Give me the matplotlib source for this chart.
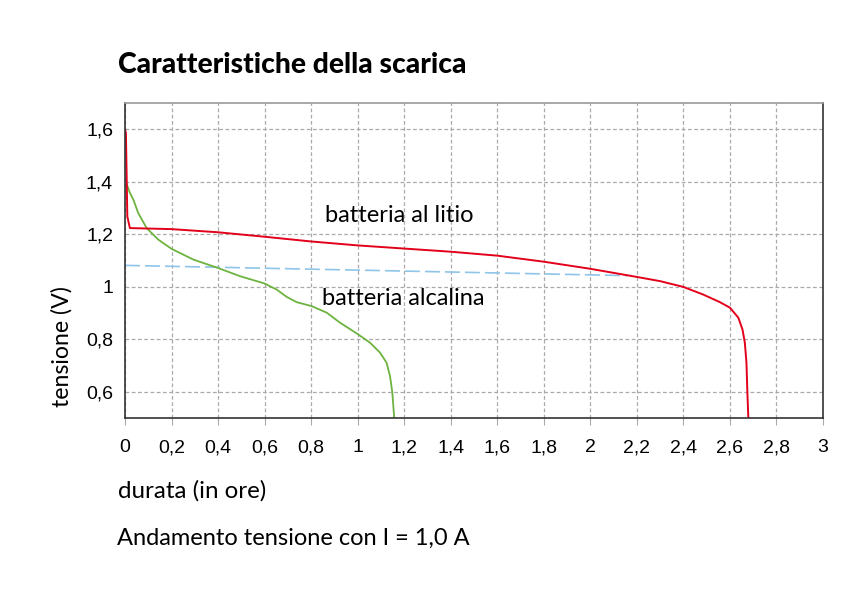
import matplotlib
matplotlib.use("Agg")
import matplotlib.pyplot as plt

# Data
lithium_x = [0.0, 0.004, 0.01, 0.021, 0.2, 0.4, 0.6, 0.8, 1.0, 1.2, 1.4, 1.6, 1.8, 2.0,
             2.2, 2.3, 2.4, 2.485, 2.557, 2.6, 2.636, 2.654, 2.664, 2.671, 2.675, 2.679]
lithium_v = [1.6, 1.585, 1.268, 1.224, 1.22, 1.208, 1.191, 1.173, 1.158, 1.146, 1.134,
             1.119, 1.096, 1.069, 1.038, 1.022, 1.0, 0.971, 0.942, 0.921, 0.883, 0.838,
             0.788, 0.712, 0.598, 0.503]

alkaline_x = [0.008, 0.02, 0.036, 0.057, 0.093, 0.143, 0.2, 0.294, 0.4, 0.494, 0.6,
              0.652, 0.695, 0.738, 0.802, 0.867, 0.924, 0.996, 1.053, 1.096, 1.124,
              1.139, 1.149, 1.157]
alkaline_v = [1.39, 1.36, 1.332, 1.281, 1.224, 1.18, 1.145, 1.104, 1.072, 1.041, 1.013,
              0.99, 0.962, 0.942, 0.927, 0.902, 0.864, 0.823, 0.788, 0.75, 0.712,
              0.661, 0.598, 0.503]

ref_x = [0.0, 2.16]
ref_v = [1.082, 1.043]

x_ticks = [0, 0.2, 0.4, 0.6, 0.8, 1, 1.2, 1.4, 1.6, 1.8, 2, 2.2, 2.4, 2.6, 2.8, 3]
x_tick_labels = ["0", "0,2", "0,4", "0,6", "0,8", "1", "1,2", "1,4", "1,6", "1,8",
                 "2", "2,2", "2,4", "2,6", "2,8", "3"]
y_ticks = [0.6, 0.8, 1.0, 1.2, 1.4, 1.6]
y_tick_labels = ["0,6", "0,8", "1", "1,2", "1,4", "1,6"]

title = "Caratteristiche della scarica"
label_lithium = "batteria al litio"
label_alkaline = "batteria alcalina"
x_label = "durata (in ore)"
y_label = "tensione (V)"
caption = "Andamento tensione con I = 1,0 A"

plt.rcParams["font.family"] = ["Liberation Sans", "DejaVu Sans"]

W, H = 850, 593
fig = plt.figure(figsize=(W / 100, H / 100), dpi=100)
ax = fig.add_axes([125 / W, 1 - 418.3 / H, (823 - 125) / W, (418.3 - 103) / H])

ax.set_xlim(0, 3)
ax.set_ylim(0.5, 1.7)

ax.plot(ref_x, ref_v, color="#8ec5e8", lw=1.2, dashes=(9, 3))
ax.plot(alkaline_x, alkaline_v, color="#6db33f", lw=1.3, solid_joinstyle="round")
ax.plot(lithium_x, lithium_v, color="#e3001b", lw=1.4, solid_joinstyle="round")

ax.set_xticks(x_ticks)
ax.set_xticklabels(x_tick_labels, fontsize=14)
ax.set_yticks(y_ticks)
ax.set_yticklabels(y_tick_labels, fontsize=14)
ax.tick_params(axis="x", length=5, color="#aaaaaa", pad=10, direction="out")
ax.tick_params(axis="y", length=0, pad=8.6)

ax.grid(True, color="#aaaaaa", lw=0.9, dashes=(3, 2))
ax.set_axisbelow(True)
for side in ["left", "bottom", "right"]:
    ax.spines[side].set_color("#333333")
    ax.spines[side].set_linewidth(1.2)
ax.spines["top"].set_color("#999999")
ax.spines["top"].set_linewidth(1.2)

tfont = "Lato"
ax.text(1.18, 1.247, label_lithium, fontfamily=tfont, fontsize=17, ha="center", va="baseline")
ax.text(1.197, 0.933, label_alkaline, fontfamily=tfont, fontsize=17, ha="center", va="baseline")

fig.text(118 / W, 1 - 73 / H, title, fontfamily=tfont, fontweight="black", fontsize=20.3,
         ha="left", va="baseline")
fig.text(118 / W, 1 - 498 / H, x_label, fontfamily=tfont, fontsize=17.4, ha="left", va="baseline")
fig.text(117 / W, 1 - 545 / H, caption, fontfamily=tfont, fontsize=17, ha="left", va="baseline")
fig.text(62 / W, 1 - 347 / H, y_label, fontfamily=tfont, fontsize=16.7, rotation=90,
         ha="center", va="center")

fig.savefig("out.png", dpi=100)
